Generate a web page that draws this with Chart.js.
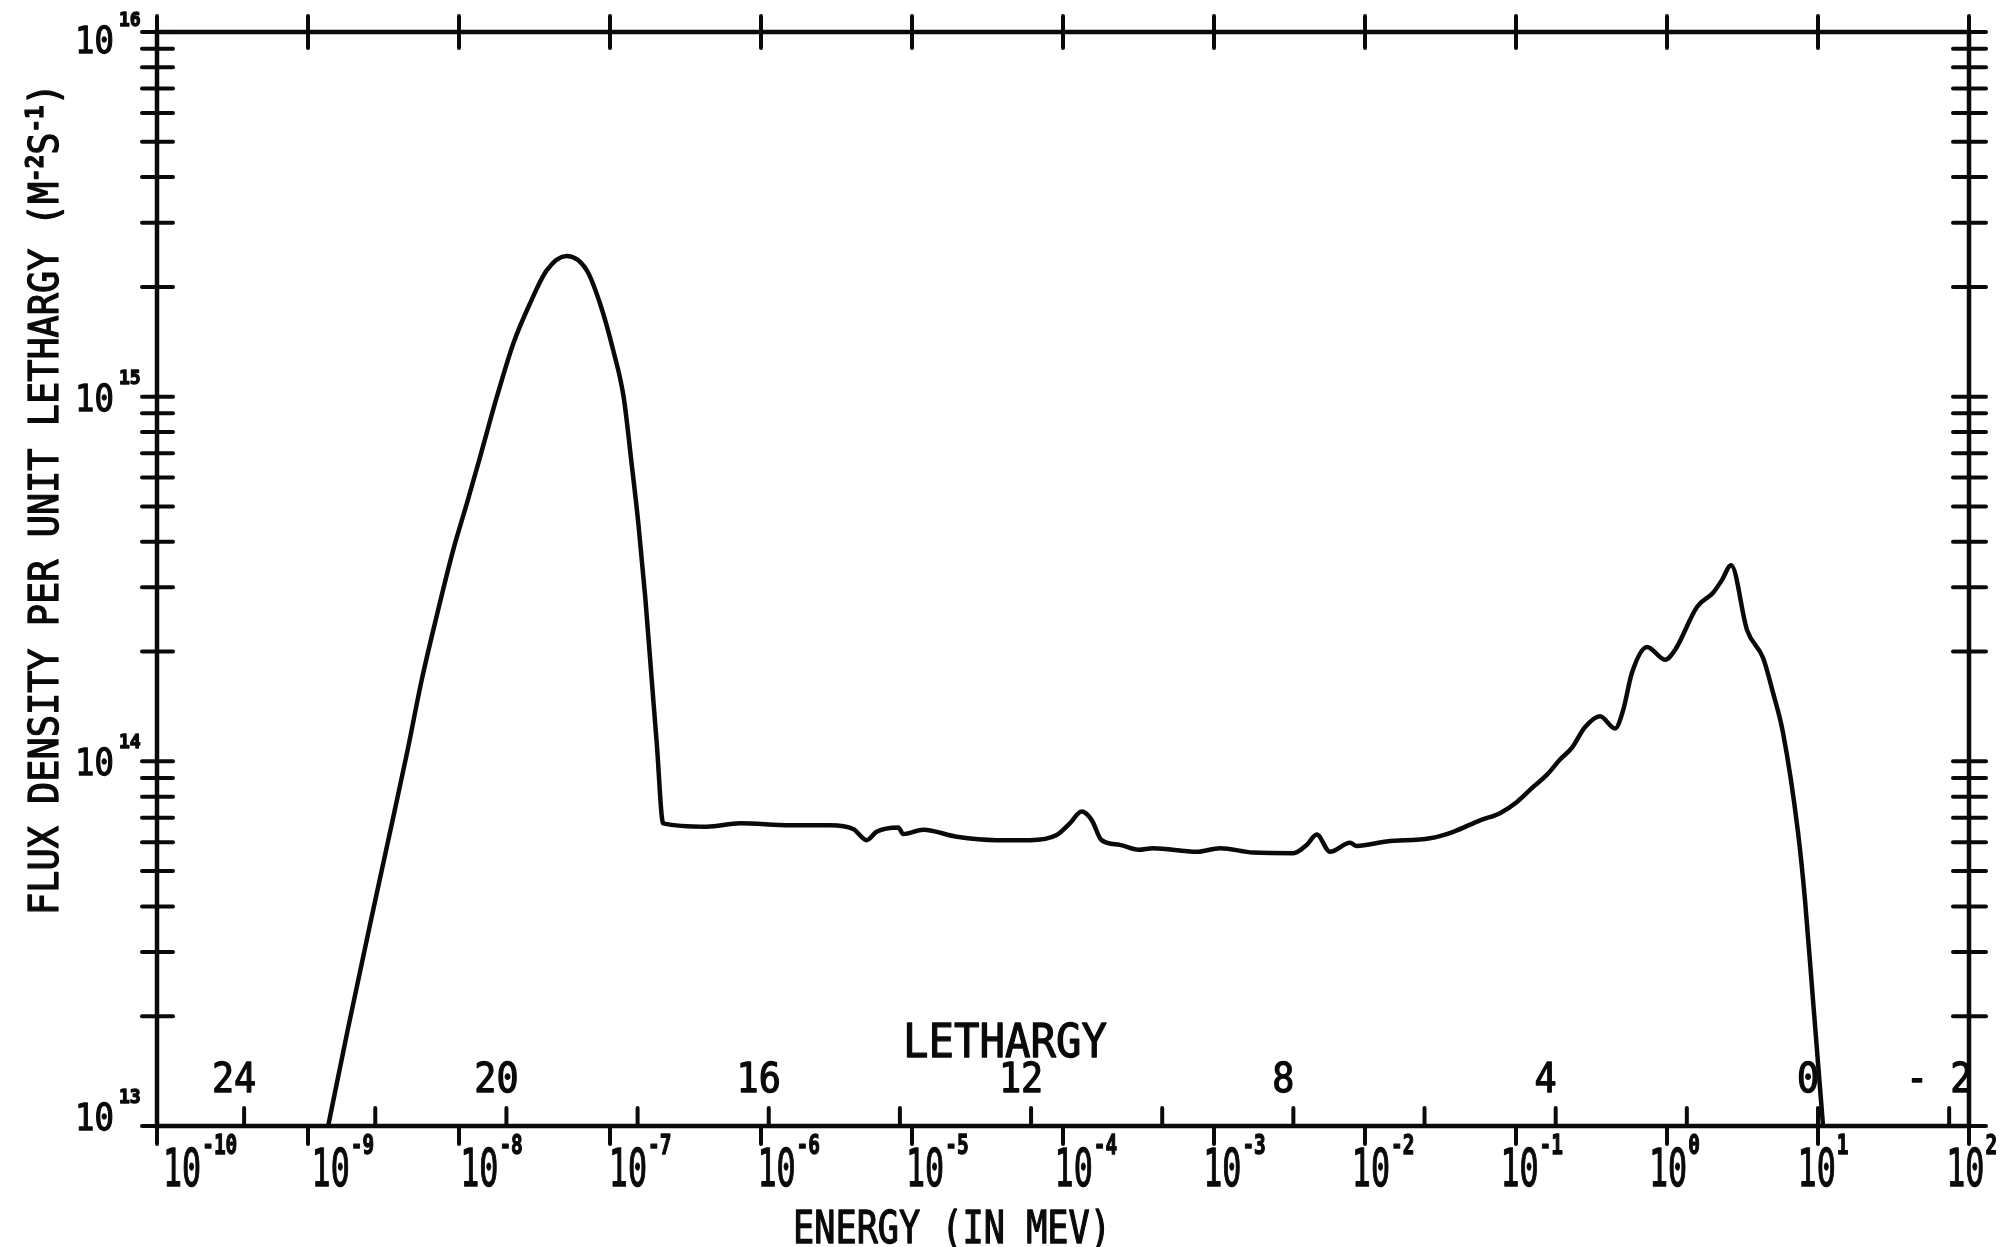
<!DOCTYPE html>
<html>
<head>
<meta charset="utf-8">
<title>Flux density per unit lethargy</title>
<script src="https://cdn.jsdelivr.net/npm/chart.js@4.4.0/dist/chart.umd.min.js"></script>
<style>
  html, body { margin: 0; padding: 0; background: #fff; }
  #wrap { width: 2006px; height: 1247px; }
</style>
</head>
<body>
<div id="wrap"><canvas id="fluxChart" width="2006" height="1247"></canvas></div>
<script>
// neutron energy (MeV)
var energy = [1.36e-9, 1.85e-9, 2.59e-9, 3.48e-9, 4.56e-9, 5.66e-9, 7.11e-9, 9.16e-9,
    1.13e-8, 1.38e-8, 1.78e-8, 2.29e-8, 2.95e-8, 3.81e-8, 5.16e-8, 7.02e-8, 8.59e-8,
    1.05e-7, 1.23e-7, 1.39e-7, 1.54e-7, 1.71e-7, 1.89e-7, 2.04e-7, 2.25e-7, 4.37e-7, 7.26e-7,
    1.56e-6, 2.86e-6, 4.08e-6, 5.01e-6, 5.83e-6, 8.11e-6, 8.75e-6,
    1.19e-5, 1.98e-5, 3.64e-5, 6.04e-5, 9.08e-5,
    1.11e-4, 1.33e-4, 1.55e-4, 1.80e-4, 2.38e-4, 3.16e-4, 3.96e-4, 7.67e-4,
    1.10e-3, 1.82e-3, 3.35e-3, 4.11e-3, 4.79e-3, 5.86e-3, 7.96e-3, 8.81e-3,
    1.39e-2, 2.69e-2, 3.85e-2, 5.78e-2, 7.83e-2,
    0.102, 0.130, 0.160, 0.195, 0.235, 0.286, 0.360, 0.453, 0.512, 0.586, 0.738, 0.971,
    1.13, 1.58, 2.02, 2.31, 2.66, 3.39, 4.33, 5.04, 5.86, 7.38, 8.20, 9.27, 10.8];

// flux density per unit lethargy (m^-2 s^-1)
var flux = [1.00e13, 1.87e13, 3.61e13, 6.35e13, 1.07e14, 1.67e14, 2.50e14, 3.80e14,
    5.11e14, 6.84e14, 9.98e14, 1.40e15, 1.80e15, 2.22e15, 2.43e15, 2.22e15, 1.80e15,
    1.34e15, 1.00e15, 6.56e14, 4.50e14, 2.83e14, 1.67e14, 1.12e14, 6.76e13, 6.62e13, 6.76e13,
    6.68e13, 6.68e13, 6.52e13, 6.08e13, 6.41e13, 6.59e13, 6.32e13,
    6.49e13, 6.21e13, 6.08e13, 6.08e13, 6.28e13,
    6.76e13, 7.28e13, 6.90e13, 6.08e13, 5.90e13, 5.72e13, 5.78e13, 5.65e13,
    5.78e13, 5.62e13, 5.60e13, 5.90e13, 6.30e13, 5.65e13, 5.98e13, 5.86e13,
    6.03e13, 6.15e13, 6.41e13, 6.89e13, 7.21e13,
    7.75e13, 8.51e13, 9.18e13, 1.01e14, 1.09e14, 1.24e14, 1.33e14, 1.23e14, 1.38e14, 1.75e14, 2.06e14, 1.90e14,
    2.02e14, 2.65e14, 2.90e14, 3.14e14, 3.45e14, 2.29e14, 1.92e14, 1.54e14, 1.20e14, 6.37e13, 4.17e13, 2.21e13, 1.00e13];

// axis ticks
var energyDecades = [-10, -9, -8, -7, -6, -5, -4, -3, -2, -1, 0, 1, 2];
var fluxDecades = [13, 14, 15, 16];
var lethargyTicks = [24, 22, 20, 18, 16, 14, 12, 10, 8, 6, 4, 2, 0, -2];
var lethargyLabels = [24, 20, 16, 12, 8, 4, 0, -2];
var E0 = 10; // lethargy reference energy (MeV)

var INK = '#0a0a0a';
var FONT = '"DejaVu Sans Mono", monospace';

// draws text squeezed horizontally (plotter style), returns its drawn width
function plotText(ctx, s, x, y, size, sx, align, weight) {
    ctx.save();
    ctx.font = (weight || 'normal') + ' ' + size + 'px ' + FONT;
    var w = ctx.measureText(s).width * sx;
    var x0 = x;
    if (align === 'center') x0 = x - w / 2;
    else if (align === 'right') x0 = x - w;
    ctx.translate(x0, y);
    ctx.scale(sx, 1);
    ctx.textAlign = 'left';
    ctx.textBaseline = 'alphabetic';
    ctx.lineWidth = 1.3;
    ctx.lineJoin = 'round';
    ctx.fillText(s, 0, 0);
    ctx.strokeText(s, 0, 0);
    ctx.restore();
    return w;
}

function seg(ctx, x1, y1, x2, y2) {
    ctx.beginPath();
    ctx.moveTo(x1, y1);
    ctx.lineTo(x2, y2);
    ctx.stroke();
}

var plotterAxes = {
    id: 'plotterAxes',
    afterDatasetsDraw: function (chart) {
        var ctx = chart.ctx;
        var xs = chart.scales.x, ys = chart.scales.y;
        var a = chart.chartArea;
        ctx.save();
        ctx.strokeStyle = INK;
        ctx.fillStyle = INK;
        ctx.lineCap = 'round';

        // frame
        ctx.lineWidth = 4.5;
        ctx.strokeRect(a.left, a.top, a.right - a.left, a.bottom - a.top);

        ctx.lineWidth = 4;
        // energy decades: crossing ticks on top, downward ticks on bottom
        energyDecades.forEach(function (p) {
            var x = xs.getPixelForValue(Math.pow(10, p));
            seg(ctx, x, a.top - 16, x, a.top + 16);
            seg(ctx, x, a.bottom, x, a.bottom + 18);
        });
        // lethargy ticks point up into the plot
        lethargyTicks.forEach(function (u) {
            var x = xs.getPixelForValue(E0 * Math.exp(-u));
            seg(ctx, x, a.bottom - 18, x, a.bottom);
        });
        // log ticks on both vertical axes
        fluxDecades.forEach(function (d) {
            for (var m = 1; m <= 9; m++) {
                if (d === 16 && m > 1) break;
                var y = ys.getPixelForValue(m * Math.pow(10, d));
                seg(ctx, a.left - 15, y, a.left + 16, y);
                seg(ctx, a.right - 16, y, a.right + 17, y);
            }
        });

        // flux labels
        fluxDecades.forEach(function (d) {
            var y = ys.getPixelForValue(Math.pow(10, d));
            var cy = Math.min(Math.max(y, 39), 1116);
            plotText(ctx, '10', 114, cy + 14, 38, 0.85, 'right');
            plotText(ctx, String(d), 119, cy - 13, 19, 0.95, 'left', 'bold');
        });

        // energy labels, the plotter set them a little short of each tick
        energyDecades.forEach(function (p, i) {
            var x = xs.getPixelForValue(Math.pow(10, p)) + 6 - 2.4 * i;
            var w = plotText(ctx, '10', x, 1186, 52, 0.61, 'left');
            plotText(ctx, String(p), x + w + 1, 1154, 27, 0.72, 'left', 'bold');
        });

        // lethargy labels
        lethargyLabels.forEach(function (u) {
            var x = xs.getPixelForValue(E0 * Math.exp(-u));
            var s = u < 0 ? '- ' + (-u) : String(u);
            plotText(ctx, s, x - 10, 1092, 40, 0.92, 'center');
        });
        plotText(ctx, 'LETHARGY', 1005, 1057, 46, 0.92, 'center');
        plotText(ctx, 'ENERGY (IN MEV)', 952, 1243, 44, 0.8, 'center');

        // vertical title with superscript units
        ctx.save();
        ctx.translate(58, 915);
        ctx.rotate(-Math.PI / 2);
        var pos = 0;
        pos += plotText(ctx, 'FLUX DENSITY PER UNIT LETHARGY (M', pos, 0, 41, 0.9, 'left');
        pos += plotText(ctx, '-2', pos, -15, 25, 0.9, 'left', 'bold');
        pos += plotText(ctx, 'S', pos, 0, 41, 0.9, 'left');
        pos += plotText(ctx, '-1', pos, -15, 25, 0.9, 'left', 'bold');
        plotText(ctx, ')', pos, 0, 41, 0.9, 'left');
        ctx.restore();

        ctx.restore();
    }
};

var points = energy.map(function (e, i) { return { x: e, y: flux[i] }; });

var fluxChart = new Chart(document.getElementById('fluxChart').getContext('2d'), {
    type: 'scatter',
    data: {
        datasets: [{
            data: points,
            showLine: true,
            borderColor: INK,
            borderWidth: 4.5,
            borderJoinStyle: 'round',
            pointRadius: 0,
            cubicInterpolationMode: 'monotone',
            fill: false
        }]
    },
    options: {
        responsive: false,
        animation: false,
        devicePixelRatio: 1,
        layout: { padding: { left: 157, right: 37, top: 32, bottom: 121 } },
        plugins: { legend: { display: false }, tooltip: { enabled: false } },
        scales: {
            x: { type: 'logarithmic', min: 1e-10, max: 1e2, display: false },
            y: { type: 'logarithmic', min: 1e13, max: 1e16, display: false }
        }
    },
    plugins: [plotterAxes]
});
</script>
</body>
</html>
